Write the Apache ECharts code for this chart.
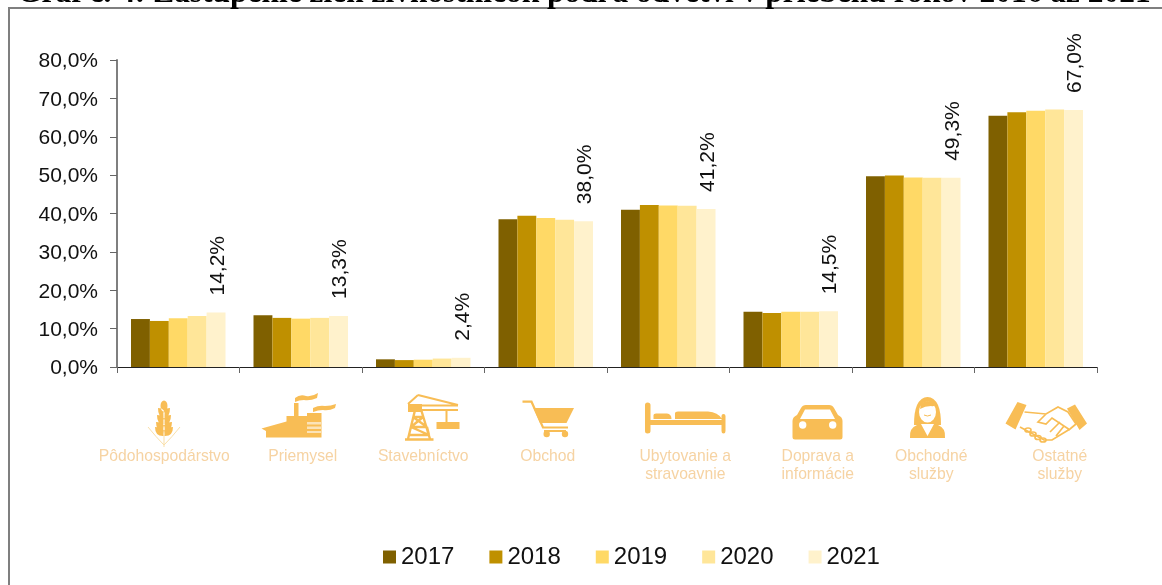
<!DOCTYPE html>
<html>
<head>
<meta charset="utf-8">
<style>html,body{margin:0;padding:0;background:#fff}#c{width:1162px;height:585px}</style>
<script src="https://cdn.jsdelivr.net/npm/echarts@6/dist/echarts.min.js"></script>
</head>
<body>
<div id="c"></div>
<script>
const titleText = 'Graf č. 4: Zastúpenie žien živnostníčok podľa odvetví v priebehu rokov 2016 až 2021';
const categories = ['Pôdohospodárstvo','Priemysel','Stavebníctvo','Obchod','Ubytovanie a\nstravoavnie','Doprava a\ninformácie','Obchodné\nslužby','Ostatné\nslužby'];
const years = ['2017','2018','2019','2020','2021'];
const s2017 = [12.5,13.5,2.0,38.5,41.0,14.4,49.7,65.5];
const s2018 = [12.0,12.8,1.8,39.4,42.2,14.1,49.9,66.4];
const s2019 = [12.7,12.6,1.9,38.8,42.1,14.4,49.4,66.8];
const s2020 = [13.3,12.8,2.2,38.4,42.0,14.4,49.3,67.1];
const s2021 = [14.2,13.3,2.4,38.0,41.2,14.5,49.3,67.0];
const seriesValues = [s2017,s2018,s2019,s2020,s2021];
const colors = ['#7F6000','#BF9000','#FFD966','#FFE699','#FFF2CC'];
const labelShift = [-14,2,0,2,17,27,18,24];

const comma = (v) => v.toFixed(1).replace('.',',') + '%';
const GOLD = '#f8bd55', PALE = '#f9dfa9';
const rich = {};
labelShift.forEach((d,i)=>{
  rich['c'+i] = {
    fontFamily:'Liberation Sans', fontSize:15.7, color:'#f6d3a3', lineHeight:18,
    padding: d>=0 ? [0,0,0,2*d] : [0,-2*d,0,0]
  };
});
const ell = (x,y,rx,ry)=>`M${x-rx} ${y}a${rx} ${ry} 0 1 0 ${2*rx} 0a${rx} ${ry} 0 1 0 ${-2*rx} 0Z`;
const grain = (y,w)=>`M164.5 ${y}Q${164-w} ${y+1} ${164-w} ${y-9}Q166 ${y-9} 164.5 ${y}ZM163.5 ${y}Q${164+w} ${y+1} ${164+w} ${y-9}Q162 ${y-9} 163.5 ${y}Z`;
const fill = (d,c)=>`<path d="${d}" fill="${c||GOLD}"/>`;
const line = (d,w,c)=>`<path d="${d}" fill="none" stroke="${c||GOLD}" stroke-width="${w||1.5}"/>`;

const icons = [
  // wheat
  line('M164 447L164 432M148 427Q156 437 164 445M180 427Q172 437 164 445',1,PALE),
  fill(ell(164,406,3.5,5.5)+grain(417,6)+grain(424,7)+grain(431,8)+grain(436,9)),
  // factory
  fill('M266 437.5L266 431L261.5 428.5L286.5 421.5L286.5 416L294 416L294 403L298.5 403L298.5 416L307 416L307 413L321.5 413L321.5 437.5Z'),
  fill('M307 422H321V424.5H307ZM307 426.5H321V429H307ZM307 431H321V433H307Z','#fbe3b8'),
  fill('M295 398Q300 394 306 396Q312 397 318 393L317 398Q310 401 304 400Q299 400 295 402Z'),
  fill('M313 408Q319 405 325 406Q331 406 336 404L335 408Q329 411 323 410Q318 410 313 412Z'),
  // crane
  line('M405 439.5H433.5M408 439L416 406M430 439L420 406M411 427H427M413 417H423M411 427L423 417M413 417L427 427M409 435H429L411 427M429 435L427 427',2.4),
  fill('M408 404H422V412H408Z'),
  line('M418 395L408 404M418 395L458 405M420 405.5H458M420 410H458M446.5 410V422',2),
  fill('M436.5 422H459.5V429H436.5Z'),
  // cart
  line('M522.5 401.7H531.5L543 427.5H568M544 431H566',2.2),
  fill('M533.5 408H574L566.5 423H540Z'+ell(546.7,434,3.2,3.2)+ell(565,434,3.2,3.2)),
  // bed
  fill('M645 405Q645 402.5 647.5 402.5Q650.5 402.5 650.5 405V431Q650.5 433.5 647.5 433.5Q645 433.5 645 431ZM721.5 416Q721.5 414 723.5 414Q725.5 414 725.5 416V431Q725.5 433.5 723.5 433.5Q721.5 433.5 721.5 431ZM650 420H722V425H650ZM653.5 419V415Q653.5 413.5 656 413.5H667Q671.5 414 671.5 419ZM675 419V413.5Q675 411.5 678 411.5H708Q718 412 722 419Z'),
  // car
  fill('M792.5 437V421Q792.5 417 797 415L801 408Q802.5 405 806 405H829Q832.5 405 834 408L838 415Q842.5 417 842.5 421V437Q842.5 439.5 840 439.5H795Q792.5 439.5 792.5 437Z'),
  fill('M805 409.5H830L835 419H800Z'+ell(802.7,425,3.7,3.7)+ell(832.7,425,3.7,3.7),'#ffffff'),
  // person
  fill('M914 425Q914 412 917 405Q921 397 927.5 397Q934 397 938 405Q941 412 941 425Z'),
  fill('M910 438Q909 428 917 425L927.5 421L938 425Q946 428 945 438Z'),
  fill(ell(927.5,412,8.5,10.5)+'M921 424L927.5 436L934 424Z','#ffffff'),
  fill('M921 404Q927 398 935 404Q935 407 931 406Q925 406 920 409Z'),
  line('M924 415Q927.5 417 931 415',1),
  // handshake
  fill('M1005.5 423.5L1017.5 402L1026.5 405L1015.5 429.5ZM1067 408.5L1075 404.5L1087 423.5L1079.5 430Z'),
  line('M1024.5 412L1046 414L1058 407L1068 412L1076 424L1070 429L1052 440L1044 440L1020 427M1046 414L1038 422L1046 424L1052 418L1070 430M1060 422L1050 432M1064 426L1056 436',1.7),
  line(ell(1028,430,3,2)+ell(1033,434,3,2)+ell(1038,437.5,3,2)+ell(1043,440,3,2),1.7)
].join('');
const iconSvg = 'data:image/svg+xml;charset=utf-8,' + encodeURIComponent(
  `<svg xmlns="http://www.w3.org/2000/svg" width="1162" height="585" viewBox="0 0 1162 585"><defs><filter id="b"><feGaussianBlur stdDeviation="0.45"/></filter></defs><g filter="url(#b)">${icons}</g></svg>`);

const chart = echarts.init(document.getElementById('c'), null, {renderer:'canvas'});
chart.setOption({
  animation:false,
  backgroundColor:'#ffffff',
  title:{
    text:titleText, left:12, top:-27,
    textStyle:{fontFamily:'Liberation Serif',fontWeight:'bold',fontSize:31.45,color:'#000'}
  },
  grid:{left:117,right:65,top:60,height:307,containLabel:false},
  legend:{
    data:years, left:378, top:540, itemWidth:13, itemHeight:13, itemGap:35,
    icon:'rect', textStyle:{fontFamily:'Liberation Sans',fontSize:24,color:'#111'}
  },
  xAxis:{
    type:'category', data:categories,
    axisLine:{lineStyle:{color:'#222',width:1.2}},
    axisTick:{show:true,alignWithLabel:false,length:6,lineStyle:{color:'#666',width:1}},
    axisLabel:{
      interval:0, margin:81, align:'center', verticalAlign:'top',
      formatter:(v,i)=>v.split('\n').map(t=>`{c${i}|${t}}`).join('\n'),
      rich
    }
  },
  yAxis:{
    type:'value', min:0, max:80, interval:10,
    axisLine:{show:true,lineStyle:{color:'#7f7f7f',width:2}},
    axisTick:{show:true,length:7,lineStyle:{color:'#666',width:1}},
    splitLine:{show:false},
    axisLabel:{
      formatter:(v)=>`{t|${comma(v)}}`, margin:19,
      rich:{t:{fontFamily:'Liberation Sans',fontSize:21,color:'#111',padding:[3,0,0,0]}}
    }
  },
  series:years.map((y,i)=>({
    name:y, type:'bar', data:seriesValues[i],
    barWidth:18.9, barGap:'0%',
    itemStyle:{color:colors[i]},
    label: i===4 ? {
      show:true, position:'top', distance:17, rotate:90, align:'left', verticalAlign:'middle', offset:[0,2],
      formatter:(p)=>comma(p.value), fontFamily:'Liberation Sans', fontSize:21, color:'#111'
    } : {show:false}
  })),
  graphic:[
    {type:'rect',silent:true,z:-10,shape:{x:9,y:8,width:1300,height:700},style:{fill:'none',stroke:'#7f7f7f',lineWidth:2}},
    {type:'image',silent:true,z:1,style:{image:iconSvg,x:0,y:0,width:1162,height:585}}
  ]
});
</script>
</body>
</html>
